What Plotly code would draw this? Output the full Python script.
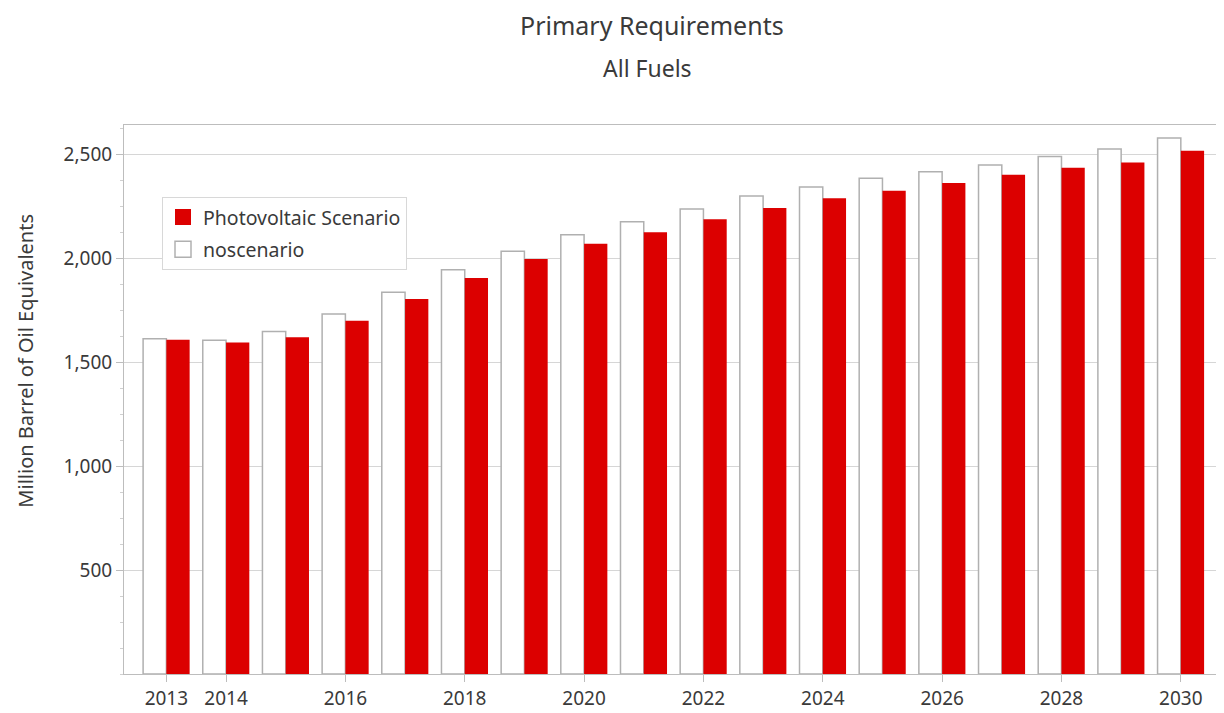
import plotly.graph_objects as go

years = list(range(2013, 2031))
noscenario = [1613, 1606, 1648, 1733, 1837, 1946, 2034, 2114, 2176, 2238,
              2300, 2344, 2386, 2417, 2450, 2490, 2526, 2580]
photovoltaic = [1608, 1595, 1620, 1700, 1805, 1906, 1997, 2070, 2126, 2189,
                2243, 2289, 2325, 2363, 2402, 2436, 2461, 2518]
x_tickvals = [2013, 2014, 2016, 2018, 2020, 2022, 2024, 2026, 2028, 2030]
y_tickvals = [500, 1000, 1500, 2000, 2500]

FONT = "Noto Sans"
GRID = "#d6d6d6"
AXIS = "#bdbdbd"
TXT = "#3a3a3a"
RED = "#dc0000"
OUTLINE = "#b0b0b0"

# page has an 8px body margin; the figure is sized to fit inside the window
OFF = 8
W, H = 1224 - OFF, 713 - OFF
L, R, T, B = 116, 2, 117, 37
plot_w = W - L - R
plot_h = H - T - B


def px_x(page_x):
    return (page_x - OFF - L) / plot_w


def px_y(page_y):
    return (H - B - (page_y - OFF)) / plot_h


fig = go.Figure()
fig.add_trace(go.Bar(
    x=years, y=noscenario, name="noscenario", showlegend=False,
    marker=dict(color="white", line=dict(color=OUTLINE, width=1.5)),
))
fig.add_trace(go.Bar(
    x=years, y=photovoltaic, name="Photovoltaic Scenario", showlegend=False,
    marker=dict(color=RED, line=dict(width=0)),
))
# legend entries with larger square swatches
fig.add_trace(go.Scatter(
    x=[None], y=[None], mode="markers", name="Photovoltaic Scenario",
    legendgroup="a",
    marker=dict(symbol="square", size=16, color=RED, line=dict(width=0)),
))
fig.add_trace(go.Scatter(
    x=[None], y=[None], mode="markers", name="noscenario",
    legendgroup="b",
    marker=dict(symbol="square", size=16, color="white",
                line=dict(color=OUTLINE, width=1.5)),
))

fig.update_layout(
    width=W, height=H,
    margin=dict(l=L, r=R, t=T, b=B),
    paper_bgcolor="white", plot_bgcolor="white",
    barmode="group", bargap=0.22, bargroupgap=0,
    font=dict(family=FONT, color=TXT, size=19),
    showlegend=True,
    legend=dict(
        x=px_x(162), y=px_y(197),
        xanchor="left", yanchor="top",
        traceorder="grouped", tracegroupgap=4,
        bgcolor="white", bordercolor="#d8d8d8", borderwidth=1,
        font=dict(family=FONT, size=19.5, color=TXT),
        itemsizing="trace",
    ),
    xaxis=dict(
        range=[2012.29, 2030.69],
        tickmode="array", tickvals=x_tickvals,
        ticks="outside", ticklen=7, tickcolor=AXIS, tickwidth=1,
        showgrid=False, zeroline=False,
        showline=True, linecolor=AXIS, linewidth=1, mirror=True,
        tickfont=dict(size=19, color=TXT),
    ),
    yaxis=dict(
        range=[0, 2642],
        tickmode="array", tickvals=y_tickvals,
        tickformat=",",
        ticks="outside", ticklen=7, tickcolor=AXIS, tickwidth=1,
        showgrid=True, gridcolor=GRID, gridwidth=1,
        zeroline=False,
        showline=True, linecolor=AXIS, linewidth=1,
        tickfont=dict(size=19, color=TXT),
        minor=dict(dtick=125, tick0=0, ticks="outside", ticklen=3,
                   tickcolor="#d0d0d0", showgrid=False),
    ),
    annotations=[
        dict(text="Primary Requirements", x=px_x(652),
             y=(H - B - 17) / plot_h, xref="paper", yref="paper",
             xanchor="center", yanchor="middle", showarrow=False,
             font=dict(size=25, color=TXT, family=FONT)),
        dict(text="All Fuels", x=px_x(647),
             y=px_y(68), xref="paper", yref="paper",
             xanchor="center", yanchor="middle", showarrow=False,
             font=dict(size=23, color=TXT, family=FONT)),
        dict(text="Million Barrel of Oil Equivalents", x=(2 - L) / plot_w,
             y=px_y(362), xref="paper", yref="paper", textangle=-90,
             xanchor="left", yanchor="middle", showarrow=False,
             font=dict(size=20, color=TXT, family=FONT)),
    ],
)

fig.write_html("out.html")
